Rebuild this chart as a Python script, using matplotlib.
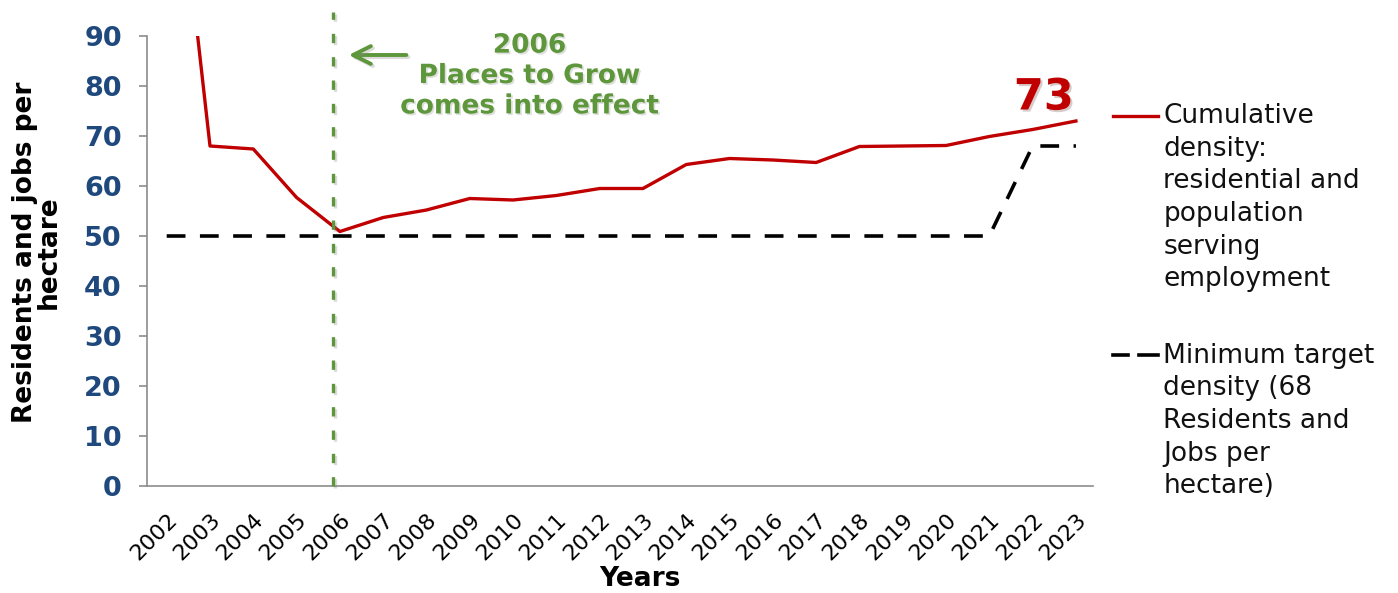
import matplotlib
matplotlib.use("Agg")
import matplotlib.pyplot as plt
import matplotlib.patheffects as pe
from matplotlib.lines import Line2D
from matplotlib.transforms import ScaledTranslation

# Density series, one value per year
years = list(range(2002, 2024))
cumulative = [145, 68.0, 67.4, 57.7, 50.9, 53.7, 55.2, 57.5, 57.2, 58.1, 59.5,
              59.5, 64.3, 65.5, 65.2, 64.7, 67.9, 68.0, 68.1, 69.9, 71.3, 73.0]
target = [50] * 20 + [68, 68]

policy_year = 2005.85
final_label = "73"

RED = "#C00000"
GREEN = "#5E963C"
NAVY = "#1F497D"
AXIS = "#8C8C8C"

fig = plt.figure(figsize=(13.98, 5.93), dpi=100)
ax = fig.add_axes([0.105, 0.1804, 0.677, 0.7589])

ax.plot(years, target, color="black", lw=2.6, dashes=(5.2, 4.0), zorder=3)
ax.plot(years, cumulative, color=RED, lw=2.4, zorder=4)

# policy marker: dashed vertical line with soft shadow
shadow = [pe.SimpleLineShadow(offset=(1.5, -1.5), shadow_color="#888888", alpha=0.3),
          pe.Normal()]
ax.plot([policy_year, policy_year], [0, 94.8], color=GREEN, lw=2.4,
        dashes=(2.8, 4.2), clip_on=False, zorder=5, path_effects=shadow)

ax.annotate("", xy=(2006.14, 86.2), xytext=(2007.6, 86.2),
            arrowprops=dict(arrowstyle="->", color=GREEN, lw=2.8, mutation_scale=32,
                            path_effects=shadow))
ax.text(2010.38, 82.0, "2006\nPlaces to Grow\ncomes into effect", color=GREEN,
        fontsize=19, fontweight="bold", ha="center", va="center", linespacing=1.22,
        path_effects=[pe.SimplePatchShadow(offset=(1.2, -1.2), alpha=0.15), pe.Normal()])

ax.text(years[-1] - 0.05, cumulative[-1] + 2.3, final_label, color=RED, fontsize=31,
        fontweight="bold", ha="right", va="baseline",
        path_effects=[pe.SimplePatchShadow(offset=(1.5, -1.5), alpha=0.2), pe.Normal()])

ax.set_xlim(2001.54, 2023.4)
ax.set_ylim(0, 90)
ax.set_yticks(range(0, 91, 10))
ax.set_xticks(years)
ax.set_xticklabels([str(y) for y in years], rotation=45, ha="right", va="top",
                   rotation_mode="anchor", fontsize=16)
for lbl in ax.get_xticklabels():
    lbl.set_transform(lbl.get_transform() + ScaledTranslation(0.05, 0, fig.dpi_scale_trans))

ax.tick_params(axis="x", length=0, pad=17)
ax.tick_params(axis="y", length=6, width=1.2, color=AXIS, pad=12,
               labelsize=19.5, labelcolor=NAVY)
for lbl in ax.get_yticklabels():
    lbl.set_fontweight("bold")

for side in ("top", "right"):
    ax.spines[side].set_visible(False)
for side in ("left", "bottom"):
    ax.spines[side].set_color(AXIS)
    ax.spines[side].set_linewidth(1.2)

ax.set_xlabel("Years", fontsize=19, fontweight="bold")
ax.xaxis.set_label_coords(0.521, -0.178)
ax.set_ylabel("Residents and jobs per\nhectare", fontsize=19, fontweight="bold",
              linespacing=0.9)
ax.yaxis.set_label_coords(-0.09, 0.52)

# legend drawn by hand so each key lines up with the first text line
fig.add_artist(Line2D([0.796, 0.828], [0.804, 0.804], color=RED, lw=2.4))
fig.text(0.832, 0.826, "Cumulative\ndensity:\nresidential and\npopulation\nserving\nemployment",
         fontsize=19, va="top", ha="left", linespacing=1.33, color="#111111")
fig.add_artist(Line2D([0.796, 0.807], [0.401, 0.401], color="black", lw=2.6))
fig.add_artist(Line2D([0.815, 0.828], [0.401, 0.401], color="black", lw=2.6))
fig.text(0.832, 0.422, "Minimum target\ndensity (68\nResidents and\nJobs per\nhectare)",
         fontsize=19, va="top", ha="left", linespacing=1.33, color="#111111")

fig.savefig("out.png", dpi=100)
